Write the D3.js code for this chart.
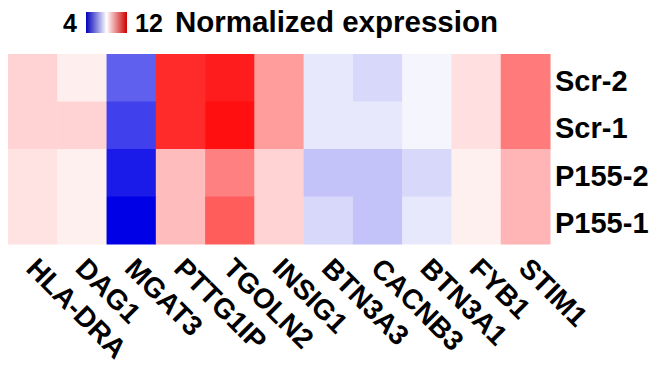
<!DOCTYPE html>
<html>
<head>
<meta charset="utf-8">
<script src="https://cdnjs.cloudflare.com/ajax/libs/d3/7.8.5/d3.min.js"></script>
<style>
  body { margin: 0; background: #fff; }
  text { font-family: "Liberation Sans", Arial, sans-serif; fill: #000; }
</style>
</head>
<body>
<script>
// genes along the bottom, samples down the right side
var genes = ["HLA-DRA", "DAG1", "MGAT3", "PTTG1IP", "TGOLN2", "INSIG1", "BTN3A3", "CACNB3", "BTN3A1", "FYB1", "STIM1"]
var samples = ["Scr-2", "Scr-1", "P155-2", "P155-1"]

// normalized expression, one array per sample (same order as genes)
var scr2  = [8.69, 8.27, 5.5, 11.33, 11.56, 9.55, 7.64, 7.39, 7.84, 8.5, 10.09]
var scr1  = [8.69, 8.69, 5.0, 11.33, 11.76, 9.55, 7.64, 7.64, 7.84, 8.5, 10.09]
var p1552 = [8.45, 8.24, 4.4, 9.05, 9.99, 8.69, 7.06, 7.06, 7.39, 8.24, 9.16]
var p1551 = [8.45, 8.24, 4.0, 9.05, 10.56, 8.69, 7.39, 7.06, 7.64, 8.24, 9.16]

var legendMin = 4, legendMax = 12

var rows = [scr2, scr1, p1552, p1551]

var w = 657, h = 373
var margin = {left: 8, right: 550, top: 54, bottom: 244}

var svg = d3.select("body").append("svg")
    .attr("width", w)
    .attr("height", h)

var x = d3.scaleBand().domain(genes).range([margin.left, margin.right])
var y = d3.scaleBand().domain(samples).range([margin.top, margin.bottom])

var color = d3.scaleLinear()
    .domain([legendMin, (legendMin + legendMax) / 2, legendMax])
    .range(["#0000e6", "#ffffff", "#ff0000"])

// flatten to cells
var cells = []
rows.forEach(function(r, i){
  r.forEach(function(v, j){
    cells.push({sample: samples[i], gene: genes[j], value: v})
  })
})

svg.append("g").selectAll("rect")
    .data(cells)
    .enter().append("rect")
    .attr("x", function(d){ return x(d.gene) })
    .attr("y", function(d){ return y(d.sample) })
    .attr("width", x.bandwidth() + 0.5)
    .attr("height", y.bandwidth() + 0.5)
    .style("fill", function(d){ return color(d.value) })

// sample labels on the right
svg.append("g").selectAll("text")
    .data(samples)
    .enter().append("text")
    .attr("x", margin.right + 5)
    .attr("y", function(d){ return y(d) + y.bandwidth() / 2 + 3 })
    .attr("dy", "0.35em")
    .style("font-size", "29px")
    .style("font-weight", "bold")
    .text(function(d){ return d })

// gene labels, rotated
svg.append("g").selectAll("text")
    .data(genes)
    .enter().append("text")
    .attr("transform", function(d){
      return "translate(" + (x(d) + x.bandwidth() / 2 - 8) + "," + 270 + ") rotate(45)"
    })
    .style("font-size", "28px")
    .style("font-weight", "bold")
    .text(function(d){ return d })

// colour legend
var defs = svg.append("defs")
var grad = defs.append("linearGradient").attr("id", "lg")
grad.selectAll("stop")
    .data([legendMin, (legendMin + legendMax) / 2, legendMax])
    .enter().append("stop")
    .attr("offset", function(d, i){ return (i * 50) + "%" })
    .attr("stop-color", function(d, i){ return i == 1 ? color(d) : d3.color(color(d)).darker(0.6) })

var legend = svg.append("g")
legend.append("rect")
    .attr("x", 86).attr("y", 12)
    .attr("width", 41).attr("height", 21)
    .style("fill", "url(#lg)")
legend.append("text")
    .attr("x", 63).attr("y", 32)
    .style("font-size", "25px")
    .style("font-weight", "bold")
    .text(legendMin)
legend.append("text")
    .attr("x", 135).attr("y", 32)
    .style("font-size", "25px")
    .style("font-weight", "bold")
    .text(legendMax)
legend.append("text")
    .attr("x", 175).attr("y", 32)
    .style("font-size", "29.5px")
    .style("font-weight", "bold")
    .text("Normalized expression")
</script>
</body>
</html>
